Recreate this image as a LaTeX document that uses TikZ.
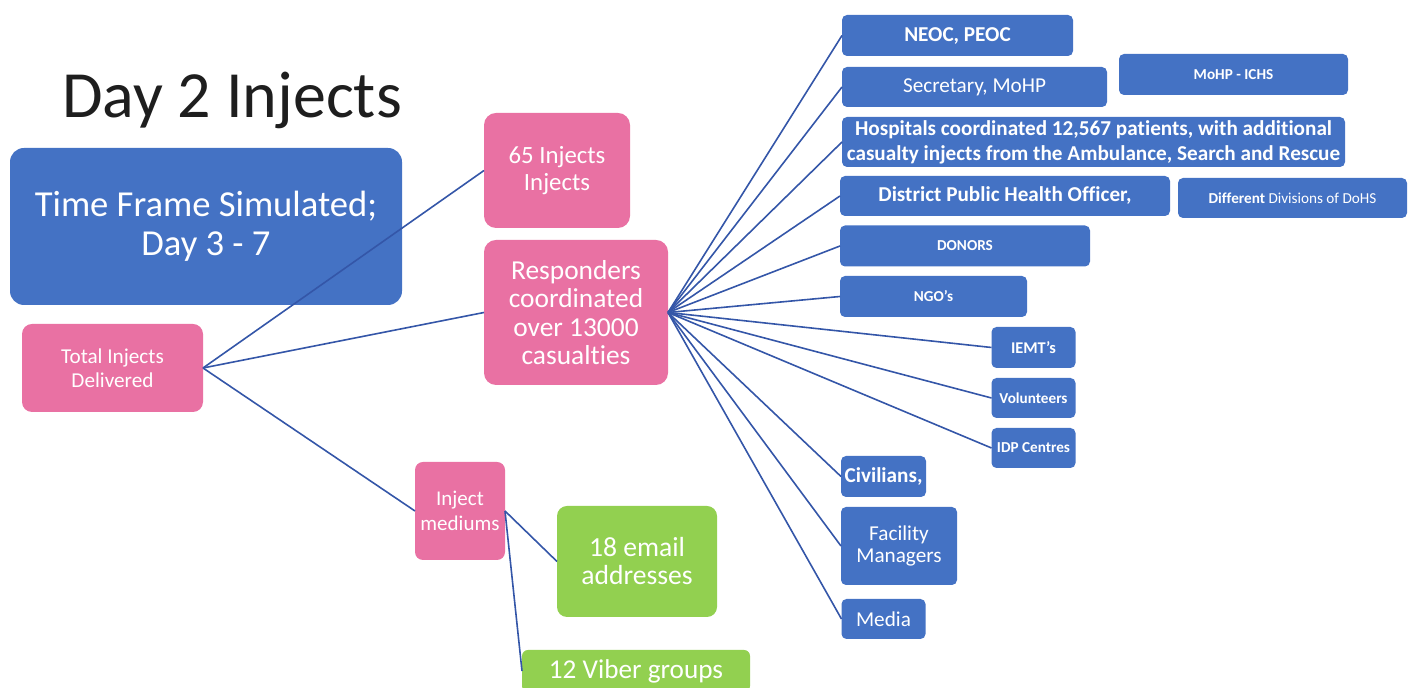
\documentclass[tikz,border=0pt]{standalone}
\usepackage{fontspec}
\setmainfont{Carlito}[Ligatures=NoCommon]
\definecolor{boxblue}{RGB}{68,114,196}
\definecolor{boxpink}{RGB}{233,113,163}
\definecolor{boxgreen}{RGB}{146,208,80}
\definecolor{linkblue}{RGB}{52,86,168}
\definecolor{titlegray}{RGB}{30,30,30}
\begin{document}
\begin{tikzpicture}[x=0.5pt,y=-0.5pt,
  every node/.style={inner sep=0pt,outer sep=0pt,text=white,align=center},
  bluebox/.style={fill=boxblue,rounded corners=2.5pt},
  pinkbox/.style={fill=boxpink,rounded corners=5pt},
  greenbox/.style={fill=boxgreen,rounded corners=5pt},
  big/.style={font=\fontsize{10.6}{12.5}\selectfont\bfseries},
  plain/.style={font=\fontsize{10.6}{12.5}\selectfont},
  small/.style={font=\fontsize{7.6}{9}\selectfont\bfseries},
  link/.style={linkblue,line width=0.8pt}]
\useasboundingbox (0,0) rectangle (1415,688);

% title and left column
\node[text=titlegray,font=\fontsize{33}{38}\selectfont,anchor=base west] (title) at (62,118) {Day 2 Injects};
\node[bluebox,rounded corners=7pt,minimum width=196pt,minimum height=78.5pt,font=\fontsize{18.3}{19.5}\selectfont] (frame) at (206,226.5) {Time Frame Simulated;\\Day 3 - 7};
\node[pinkbox,minimum width=90.5pt,minimum height=44pt,font=\fontsize{10.6}{12}\selectfont] (total) at (112.5,368) {Total Injects\\Delivered};

% middle column
\node[pinkbox,rounded corners=6pt,minimum width=73pt,minimum height=57.5pt,font=\fontsize{12.4}{13.5}\selectfont] (count) at (557,170.5) {65 Injects\\Injects};
\node[pinkbox,rounded corners=6pt,minimum width=92pt,minimum height=72.5pt,font=\fontsize{13.7}{14.2}\selectfont] (resp) at (576,312.5) {Responders\\coordinated\\over 13000\\casualties};
\node[pinkbox,rounded corners=4pt,minimum width=45pt,minimum height=49pt,font=\fontsize{10.5}{12.5}\selectfont] (medium) at (460,511) {Inject\\mediums};
\node[greenbox,minimum width=80pt,minimum height=55.5pt,font=\fontsize{13.8}{14}\selectfont] (email) at (637,561.5) {18 email\\addresses};
\node[greenbox,rounded corners=3pt,minimum width=114pt,minimum height=21pt,font=\fontsize{13.6}{14}\selectfont] (viber) at (636,671) {12 Viber groups};

% responders
\node[bluebox,big,minimum width=115.5pt,minimum height=20.5pt] (neoc) at (957.5,35.5) {NEOC, PEOC};
\node[bluebox,plain,minimum width=132.5pt,minimum height=20pt] (secretary) at (974.5,87) {Secretary, MoHP};
\node[bluebox,small,minimum width=114.5pt,minimum height=20.5pt] (ichs) at (1233.5,74.5) {MoHP - ICHS};
\node[bluebox,big,minimum width=251.5pt,minimum height=25pt] (hospitals) at (1093.5,142) {Hospitals coordinated 12,567 patients, with additional\\casualty injects from the Ambulance, Search and Rescue};
\node[bluebox,big,minimum width=165pt,minimum height=20pt] (district) at (1005,196) {District Public Health Officer,};
\node[bluebox,font=\fontsize{7.6}{9}\selectfont,minimum width=114.5pt,minimum height=20pt] (divisions) at (1292.5,198) {{\bfseries Different} Divisions of DoHS};
\node[bluebox,small,minimum width=125pt,minimum height=20.5pt] (donors) at (965,246) {DONORS};
\node[bluebox,small,minimum width=93.5pt,minimum height=20.5pt] (ngo) at (933.5,296.5) {NGO's};
\node[bluebox,font=\fontsize{8.2}{9}\selectfont\bfseries,minimum width=42pt,minimum height=20.5pt] (iemt) at (1033.5,347.5) {IEMT's};
\node[bluebox,small,minimum width=42pt,minimum height=20pt] (volunteers) at (1033.5,398) {Volunteers};
\node[bluebox,small,minimum width=42pt,minimum height=20pt] (idp) at (1033.5,448) {IDP Centres};
\node[bluebox,big,minimum width=42.5pt,minimum height=20.5pt] (civilians) at (883.5,476.5) {Civilians,};
\node[bluebox,font=\fontsize{10.6}{10.8}\selectfont,minimum width=58pt,minimum height=39pt] (facility) at (899,546) {Facility\\Managers};
\node[bluebox,plain,minimum width=42pt,minimum height=20pt] (media) at (883.5,619) {Media};

% connectors
\draw[link] (total.east) -- (count.west);
\draw[link] (total.east) -- (resp.west);
\draw[link] (total.east) -- (medium.west);
\draw[link] (medium.east) -- (email.west);
\draw[link] (medium.east) -- (viber.west);
\foreach \n in {neoc,secretary,hospitals,district,donors,ngo,iemt,volunteers,idp,civilians,facility,media}
  \draw[link] (resp.east) -- (\n.west);
\end{tikzpicture}
\end{document}
